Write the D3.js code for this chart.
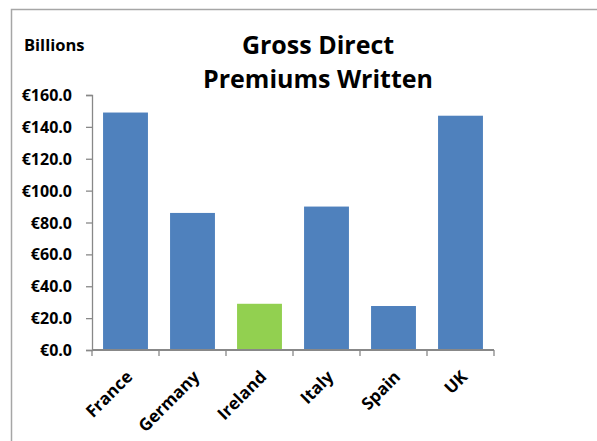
<!DOCTYPE html>
<html>
<head>
<meta charset="utf-8">
<script src="https://cdn.jsdelivr.net/npm/d3@7"></script>
<style>
  body { margin: 0; background: #fff; }
  text { font-family: "Open Sans", sans-serif; font-weight: bold; fill: #000; }
</style>
</head>
<body>
<svg id="chart"></svg>
<script>
const countries = ['France', 'Germany', 'Ireland', 'Italy', 'Spain', 'UK'];
const premiums = [149, 86, 29, 90, 27.6, 147];
const barColors = ['#4f81bd', '#4f81bd', '#92d050', '#4f81bd', '#4f81bd', '#4f81bd'];
const yTicks = [0, 20, 40, 60, 80, 100, 120, 140, 160];

const width = 597, height = 441;
const margin = {top: 95, right: 103, bottom: 91, left: 92};

const svg = d3.select('#chart').attr('width', width).attr('height', height);

// Outer frame (only top and left edges show).
svg.append('path')
  .attr('d', `M11.5,${height} V9.5 H${width}`)
  .attr('fill', 'none')
  .attr('stroke', '#a6a6a6')
  .attr('stroke-width', 1.5);

const x = d3.scaleBand().domain(countries)
  .range([margin.left, width - margin.right]).paddingInner(0.33).paddingOuter(0.165);
const y = d3.scaleLinear().domain([0, 160]).range([height - margin.bottom, margin.top]);

// Bars.
svg.append('g').selectAll('rect').data(countries).join('rect')
  .attr('x', (d) => x(d))
  .attr('width', x.bandwidth())
  .attr('y', (d, i) => y(premiums[i]))
  .attr('height', (d, i) => y(0) - y(premiums[i]))
  .attr('fill', (d, i) => barColors[i]);

// Y axis.
const yAxis = svg.append('g')
  .attr('transform', `translate(${margin.left},0)`)
  .call(d3.axisLeft(y).tickValues(yTicks).tickSize(6).tickPadding(14)
    .tickFormat((d) => '€' + d.toFixed(1)));
yAxis.select('.domain').attr('stroke', '#888').attr('stroke-width', 1.3);
yAxis.selectAll('.tick line').attr('stroke', '#888').attr('stroke-width', 1.3);
yAxis.selectAll('.tick text').style('font-size', '16px').attr('dy', '0.35em');

// X axis, with ticks at the band edges.
const xAxis = svg.append('g').attr('transform', `translate(0,${y(0)})`);
xAxis.append('line')
  .attr('x1', margin.left).attr('x2', width - margin.right)
  .attr('stroke', '#888').attr('stroke-width', 2);
const edges = d3.range(countries.length + 1).map((i) => margin.left + i * (width - margin.left - margin.right) / countries.length);
xAxis.selectAll('line.tk').data(edges).join('line')
  .attr('class', 'tk')
  .attr('x1', (d) => d).attr('x2', (d) => d)
  .attr('y1', 0).attr('y2', 6)
  .attr('stroke', '#888').attr('stroke-width', 1.3);
xAxis.selectAll('text').data(countries).join('text')
  .attr('transform', (d) => `translate(${x(d) + x.bandwidth() / 2 + 8},${28}) rotate(-45)`)
  .attr('text-anchor', 'end')
  .style('font-size', '17px')
  .text((d) => d);

// Titles.
svg.append('text').attr('x', 24).attr('y', 51).style('font-size', '16.5px').text('Billions');
const title = svg.append('text').attr('text-anchor', 'middle').style('font-size', '25px');
title.append('tspan').attr('x', 318).attr('y', 54).text('Gross Direct');
title.append('tspan').attr('x', 318).attr('y', 88).text('Premiums Written');
</script>
</body>
</html>
